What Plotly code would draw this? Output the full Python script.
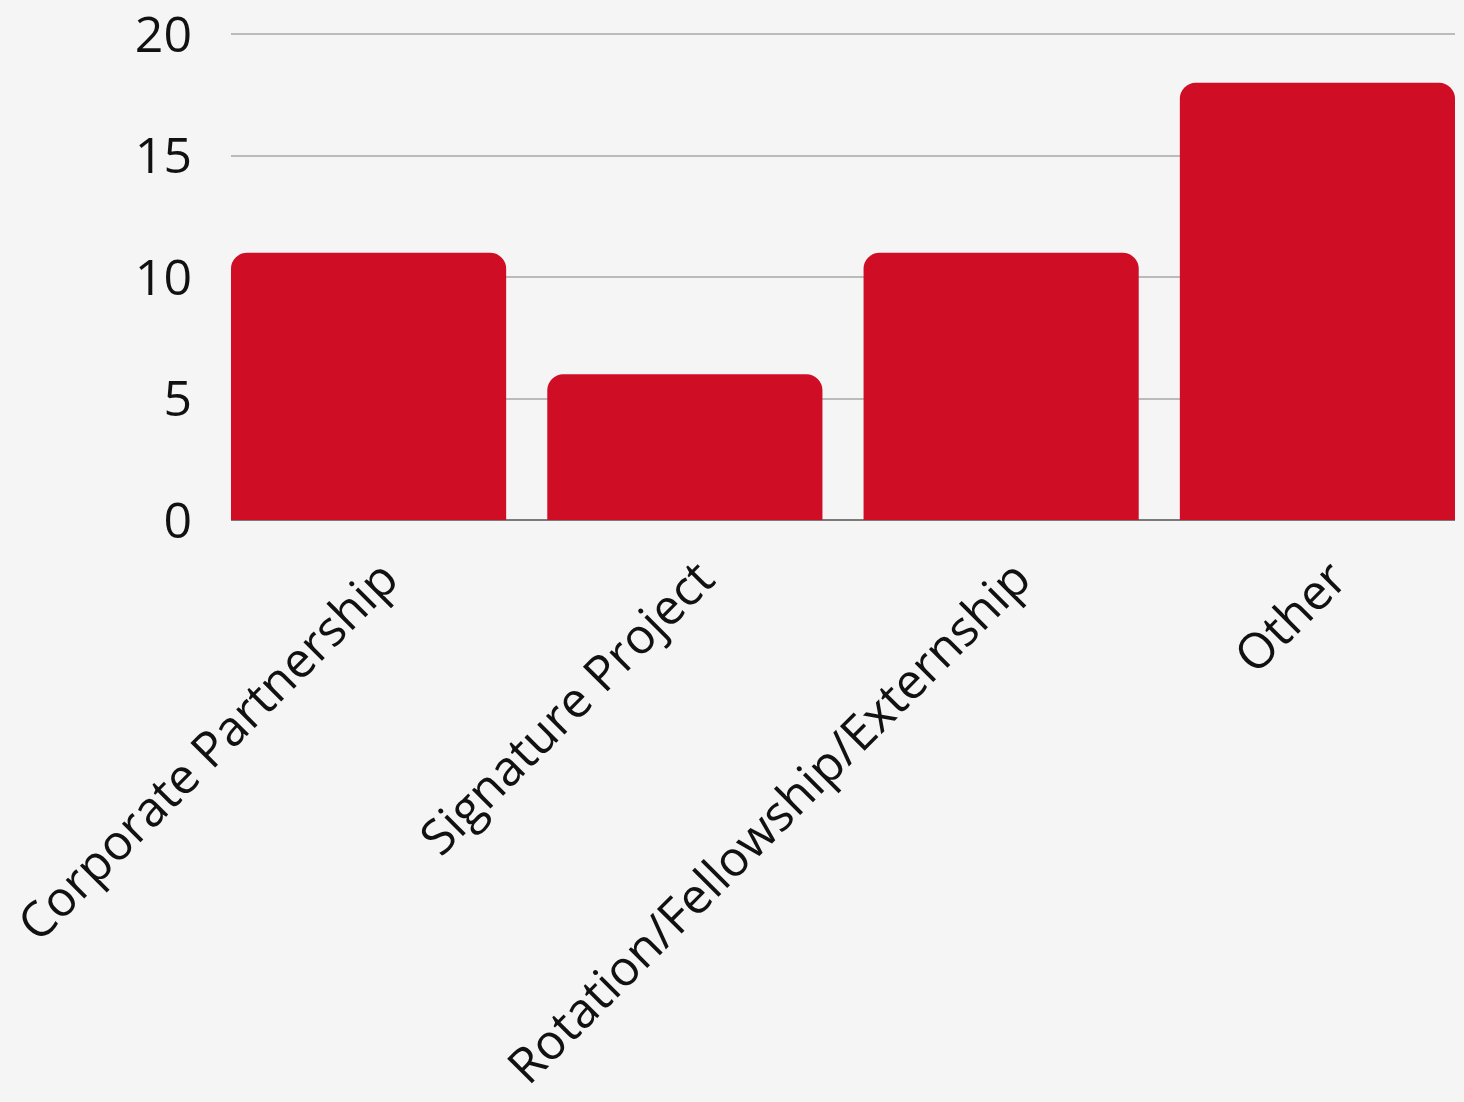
import plotly.graph_objects as go

categories = ["Corporate Partnership", "Signature Project", "Rotation/Fellowship/Externship", "Other"]
values = [11, 6, 11, 18]
y_ticks = [0, 5, 10, 15, 20]

BG = "#f5f5f5"
BAR = "#cf0e25"
FONT = "Open Sans"

fig = go.Figure(go.Bar(x=categories, y=values, marker=dict(color=BAR, line=dict(width=0)),
                       hoverinfo="skip"))

gap = 0.13
fig.update_layout(
    width=1464, height=1102,
    paper_bgcolor=BG, plot_bgcolor=BG,
    margin=dict(l=231, r=9, t=27, b=582),
    bargap=gap,
    barcornerradius=16,
    showlegend=False,
    font=dict(family=FONT, color="#111111", size=50),
)
fig.update_xaxes(
    range=[-0.5 + gap / 2, len(categories) - 0.5 - gap / 2],
    tickangle=-45, showgrid=False, showline=False, zeroline=False,
    tickfont=dict(size=49, family=FONT, color="#111111"),
    ticks="", ticklabelstandoff=19, ticklabelshift=15, automargin=False,
    ticklabeloverflow="allow",
)
fig.update_yaxes(
    range=[0, 20.3], tickvals=y_ticks, showgrid=True, gridcolor="#bbbbbb", gridwidth=2,
    zeroline=True, zerolinecolor="#7a7a7a", zerolinewidth=2,
    tickfont=dict(size=50, family=FONT, color="#111111"),
    ticks="", ticklabelstandoff=38, automargin=False,
    ticklabeloverflow="allow",
)
fig.write_html(
    "out.html",
    config={"displayModeBar": False, "staticPlot": True},
    post_script="document.body.style.margin='0';document.body.style.padding='0';document.body.style.background='#f5f5f5';",
)
